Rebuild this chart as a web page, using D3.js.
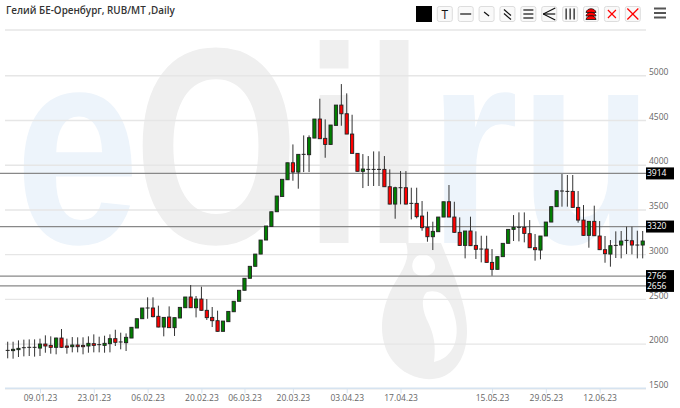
<!DOCTYPE html>
<html>
<head>
<meta charset="utf-8">
<script src="https://cdnjs.cloudflare.com/ajax/libs/d3/7.8.5/d3.min.js"></script>
<style>
    html, body { margin: 0; padding: 0; background: #fff; }
    svg { display: block; }
    text { font-family: "Open Sans", sans-serif; }
</style>
</head>
<body>
<div id="chart"></div>
<script>
// one entry per session, holidays left out
const dates = ["28.12.22","29.12.22","30.12.22","03.01.23","04.01.23","05.01.23",
    "09.01.23","10.01.23","11.01.23","12.01.23","13.01.23","16.01.23","17.01.23","18.01.23","19.01.23","20.01.23",
    "23.01.23","24.01.23","25.01.23","26.01.23","27.01.23","30.01.23","31.01.23","01.02.23","02.02.23","03.02.23",
    "06.02.23","07.02.23","08.02.23","09.02.23","10.02.23","13.02.23","14.02.23","15.02.23","16.02.23","17.02.23",
    "20.02.23","21.02.23","22.02.23","27.02.23","28.02.23","01.03.23","02.03.23","03.03.23",
    "06.03.23","07.03.23","09.03.23","10.03.23","13.03.23","14.03.23","15.03.23","16.03.23","17.03.23",
    "20.03.23","21.03.23","22.03.23","23.03.23","24.03.23","27.03.23","28.03.23","29.03.23","30.03.23","31.03.23",
    "03.04.23","04.04.23","05.04.23","06.04.23","07.04.23","10.04.23","11.04.23","12.04.23","13.04.23","14.04.23",
    "17.04.23","18.04.23","19.04.23","20.04.23","21.04.23","24.04.23","25.04.23","26.04.23","27.04.23","28.04.23",
    "02.05.23","03.05.23","04.05.23","05.05.23","10.05.23","11.05.23","12.05.23",
    "15.05.23","16.05.23","17.05.23","18.05.23","19.05.23","22.05.23","23.05.23","24.05.23","25.05.23","26.05.23",
    "29.05.23","30.05.23","31.05.23","01.06.23","02.06.23","05.06.23","06.06.23","07.06.23","08.06.23","09.06.23",
    "12.06.23","13.06.23","14.06.23","15.06.23","16.06.23","19.06.23","20.06.23","21.06.23","22.06.23"];

const opens = [1924,1921,1932,1954,1958,1958,1950,1995,1980,1958,2062,1973,1965,1984,1980,1973,1999,1988,1980,1999,
    2055,2018,2010,2062,2174,2278,2398,2398,2305,2185,2297,2178,2286,2401,2521,2401,2498,2372,2293,2256,
    2137,2245,2356,2473,2596,2730,2864,3001,3158,3310,3474,3645,3832,4022,3918,4116,4112,4298,4511,4295,
    4227,4440,4667,4570,4343,4127,3926,3948,3948,3948,3948,3754,3560,3743,3743,3568,3568,3426,3300,3195,
    3251,3415,3586,3415,3244,3098,3259,3098,3057,3057,2908,2830,2972,3121,3277,3300,3300,3229,3072,3046,
    3203,3359,3531,3706,3702,3702,3523,3381,3210,3367,3203,3050,3001,3098,3102,3154,3150,3102,3102];
const highs = [2021,2021,2036,2044,2047,2047,2055,2092,2081,2066,2163,2055,2073,2070,2070,2081,2103,2077,2088,2103,
    2155,2122,2114,2182,2278,2398,2517,2517,2424,2293,2416,2290,2405,2521,2655,2532,2636,2498,2409,2368,
    2252,2360,2473,2596,2730,2864,3001,3158,3315,3474,3650,3837,4022,4227,4116,4328,4328,4511,4738,4507,
    4444,4667,4902,4798,4559,4127,4119,4097,4149,4149,4097,3948,3754,3929,3929,3743,3743,3594,3475,3363,
    3415,3586,3773,3586,3411,3259,3419,3255,3206,3206,3057,2972,3121,3277,3437,3467,3467,3381,3225,3203,
    3359,3531,3710,3896,3885,3885,3706,3549,3367,3542,3370,3203,3158,3255,3259,3307,3307,3262,3259];
const lows = [1835,1831,1850,1857,1861,1854,1861,1898,1887,1880,1950,1887,1902,1902,1880,1898,1902,1902,1898,1902,
    1973,1936,1917,2062,2174,2278,2278,2293,2182,2081,2178,2085,2286,2401,2401,2293,2368,2264,2185,2133,
    2137,2245,2356,2473,2596,2730,2864,3001,3158,3310,3474,3645,3832,3821,3732,3918,3918,4298,4291,4078,
    4227,4440,4436,4343,4127,3926,3739,3762,3762,3762,3754,3557,3396,3557,3557,3389,3400,3262,3139,3046,
    3251,3415,3415,3240,3095,2953,3091,2946,2908,2908,2759,2830,2972,3121,3147,3143,3132,3072,2927,2942,
    3203,3359,3531,3531,3531,3523,3352,3206,3072,3203,3046,2904,2860,2957,2953,3001,2998,2953,2953];
const closes = [1924,1936,1947,1954,1958,1958,1995,1973,1958,2062,1958,1958,1984,1965,1965,2003,1980,1988,2003,2055,
    2014,2018,2070,2182,2278,2398,2398,2301,2185,2293,2178,2290,2405,2521,2401,2498,2372,2290,2256,2137,
    2252,2360,2473,2596,2730,2864,3001,3158,3315,3474,3650,3837,4022,3918,4116,4116,4302,4511,4291,4227,
    4444,4667,4570,4343,4127,3926,3952,3948,3948,3948,3754,3560,3743,3743,3560,3568,3419,3296,3195,3255,
    3415,3586,3415,3244,3098,3259,3095,3054,3057,2908,2830,2972,3121,3277,3300,3300,3232,3072,3050,3203,
    3359,3531,3710,3706,3702,3523,3381,3210,3367,3206,3050,3005,3095,3098,3147,3154,3102,3102,3147];

const yTickValues = [1500, 2000, 2500, 3000, 3500, 4000, 4500, 5000];
const xTickValues = ["09.01.23","23.01.23","06.02.23","20.02.23","06.03.23","20.03.23","03.04.23","17.04.23","15.05.23","29.05.23","12.06.23"];
const levels = [3914, 3320, 2766, 2656];

const titleText = "Гелий БЕ-Оренбург, RUB/MT ,Daily";

const width = 680, height = 408;
const plotLeft = 5, plotRight = 646;

const svg = d3.select("#chart").append("svg")
    .attr("width", width)
    .attr("height", height);

const x = d3.scalePoint().domain(dates).range([7.7, 642.7]);
const y = d3.scaleLinear().domain([1500, 5000]).range([388.3, 75.3]);

// watermark behind everything
const blueMark = "#edf4fb", greyMark = "#efefef";
const mark = svg.append("g").attr("class", "watermark")
    .style("font-weight", "bold")
    .style("font-size", "280px");

[
    { t: "e", x: 15, sx: 0.8, c: blueMark },
    { t: "O", x: 134, sx: 0.755, c: greyMark },
    { t: "i", x: 305, sx: 0.75, c: greyMark },
    { t: "l", x: 365, sx: 0.75, c: greyMark },
    { t: "r", x: 428, sx: 0.83, c: blueMark },
    { t: "u", x: 520, sx: 0.78, c: blueMark }
].forEach(g => {
    mark.append("text")
        .attr("transform", `translate(${g.x},243) scale(${g.sx},1)`)
        .style("font-family", '"Liberation Sans", sans-serif')
        .attr("fill", g.c)
        .text(g.t);
});

// the oil drop under the "l", with its white highlight
mark.append("path")
    .attr("fill", greyMark)
    .attr("d", "M406,243 C412,262 398,275 390,292 C380,315 378,340 392,360 C404,376 425,383 442,377 C462,369 470,345 466,318 C463,296 452,270 441,243 Z");
mark.append("path")
    .attr("fill", "#fff")
    .attr("d", "M416,257 C424,250 436,258 435,268 C433,277 420,279 414,272 C411,267 412,261 416,257 Z");
mark.append("path")
    .attr("fill", "#fff")
    .attr("d", "M427,292 C442,288 452,300 456,322 C459,342 452,358 434,362 C436,345 434,335 428,322 C423,312 420,298 427,292 Z");

// y axis: labels sit just above their gridlines
const yAxis = d3.axisRight(y)
    .tickValues(yTickValues)
    .tickFormat(d3.format("d"))
    .tickSize(-(plotRight - plotLeft))
    .tickPadding(2);

const yG = svg.append("g")
    .attr("class", "y-axis")
    .attr("transform", `translate(${plotRight},0)`)
    .call(yAxis);
yG.select(".domain").remove();
yG.selectAll(".tick line").attr("stroke", "#e6e6e6").attr("stroke-width", 1.4);
yG.selectAll(".tick text")
    .attr("x", 3)
    .attr("dy", "-0.1em")
    .attr("fill", "#666")
    .style("font-size", "8.5px");

// x axis
const xAxis = d3.axisBottom(x)
    .tickValues(xTickValues)
    .tickSize(5)
    .tickPadding(2)
    .tickSizeOuter(0);

const xG = svg.append("g")
    .attr("class", "x-axis")
    .attr("transform", "translate(0,388.3)")
    .call(xAxis);
xG.select(".domain").attr("d", `M${plotLeft},0H${plotRight}`).attr("stroke", "#d6e3f0").attr("stroke-width", 1.4);
xG.selectAll(".tick line").attr("stroke", "#d6e3f0");
xG.selectAll(".tick text").attr("fill", "#666").style("font-size", "8.5px");

// horizontal levels with their black price tags
const levelG = svg.append("g").attr("class", "levels")
    .selectAll("g")
    .data(levels)
    .join("g")
    .attr("transform", d => `translate(0,${y(d) + 1})`);

levelG.append("line")
    .attr("x1", 0).attr("x2", plotRight)
    .attr("stroke", "#888")
    .attr("stroke-width", 1.3);

levelG.append("rect")
    .attr("x", plotRight).attr("y", -6)
    .attr("width", 28).attr("height", 12)
    .attr("fill", "#000");

levelG.append("text")
    .attr("x", plotRight + 1).attr("dy", "0.34em")
    .attr("fill", "#fff")
    .style("font-size", "8.5px")
    .text(d => d);

// candles
const candles = svg.append("g").attr("class", "candles")
    .selectAll("g")
    .data(dates.map((d, i) => ({ date: d, open: opens[i], high: highs[i], low: lows[i], close: closes[i] })))
    .join("g");

candles.append("line")
    .attr("x1", d => x(d.date)).attr("x2", d => x(d.date))
    .attr("y1", d => y(d.high)).attr("y2", d => y(d.low))
    .attr("stroke", "#333");

candles.filter(d => d.open !== d.close).append("rect")
    .attr("x", d => x(d.date) - 1.6)
    .attr("width", 3.2)
    .attr("y", d => y(Math.max(d.open, d.close)))
    .attr("height", d => Math.abs(y(d.open) - y(d.close)))
    .attr("fill", d => d.close > d.open ? "#008000" : "#ff0000")
    .attr("stroke", "#222")
    .attr("stroke-width", 0.9);

candles.filter(d => d.open === d.close).append("line")
    .attr("x1", d => x(d.date) - 2).attr("x2", d => x(d.date) + 2)
    .attr("y1", d => y(d.open)).attr("y2", d => y(d.open))
    .attr("stroke", "#222");

// header
svg.append("text")
    .attr("x", 6).attr("y", 14)
    .attr("fill", "#333")
    .style("font-size", "9.9px")
    .style("font-weight", 600)
    .text(titleText);

svg.append("line")
    .attr("x1", plotLeft).attr("x2", plotRight)
    .attr("y1", 30).attr("y2", 30)
    .attr("stroke", "#e6e6e6")
    .attr("stroke-width", 1.4);

// toolbar
const toolbar = svg.append("g").attr("class", "toolbar");
toolbar.append("rect").attr("x", 416).attr("y", 6).attr("width", 16).attr("height", 16).attr("fill", "#000");

const toolNames = ["text", "hline", "segment", "parallel", "lines", "fan", "vlines", "stack", "x-small", "x-big"];
const toolX = d3.scalePoint().domain(toolNames).range([437.3, 625.3]);

const tools = toolbar.selectAll("g.tool")
    .data(toolNames)
    .join("g")
    .attr("class", "tool")
    .attr("transform", d => `translate(${toolX(d)},6.5)`);

tools.append("rect")
    .attr("width", 15).attr("height", 15).attr("rx", 2)
    .attr("fill", "#f9f9f9")
    .attr("stroke", "#ddd");

function toolLines(name, segs, color, w) {
    const g = tools.filter(d => d === name);
    segs.forEach(s => {
        g.append("line")
            .attr("x1", s[0]).attr("y1", s[1]).attr("x2", s[2]).attr("y2", s[3])
            .attr("stroke", color || "#111")
            .attr("stroke-width", w || 1.2);
    });
}

tools.filter(d => d === "text").append("text")
    .attr("x", 7.5).attr("y", 12)
    .attr("text-anchor", "middle")
    .attr("fill", "#111")
    .style("font-size", "12px")
    .text("T");
toolLines("hline", [[2, 7.5, 13, 7.5]]);
toolLines("segment", [[5, 5.5, 10, 9.5]]);
toolLines("parallel", [[4, 3, 11, 9], [4, 7, 11, 13]]);
toolLines("lines", [[2.5, 3.5, 12.5, 3.5], [2.5, 7.5, 12.5, 7.5], [2.5, 11.5, 12.5, 11.5]]);
toolLines("fan", [[1.5, 7.5, 13.5, 1.5], [1.5, 7.5, 13.5, 7.5], [1.5, 7.5, 13.5, 13.5]]);
toolLines("vlines", [[3.5, 2, 3.5, 13], [7.5, 2, 7.5, 13], [11.5, 2, 11.5, 13]]);
toolLines("x-small", [[3.5, 3.5, 11.5, 11.5], [3.5, 11.5, 11.5, 3.5]], "#f00");
toolLines("x-big", [[2, 2, 13, 13], [2, 13, 13, 2]], "#f00");

// red stacked arcs icon
[3, 6.5, 10].forEach(dy => {
    tools.filter(d => d === "stack").append("path")
        .attr("d", `M2.5,${dy + 3} C3.5,${dy - 2} 11.5,${dy - 2} 12.5,${dy + 3} L2.5,${dy + 3} Z`)
        .attr("fill", "#f00")
        .attr("stroke", "#111")
        .attr("stroke-width", 0.8);
});

// menu icon on the far right
[8.5, 13, 17.5].forEach(yy => {
    toolbar.append("line")
        .attr("x1", 654).attr("x2", 666)
        .attr("y1", yy).attr("y2", yy)
        .attr("stroke", "#555")
        .attr("stroke-width", 2);
});
</script>
</body>
</html>
